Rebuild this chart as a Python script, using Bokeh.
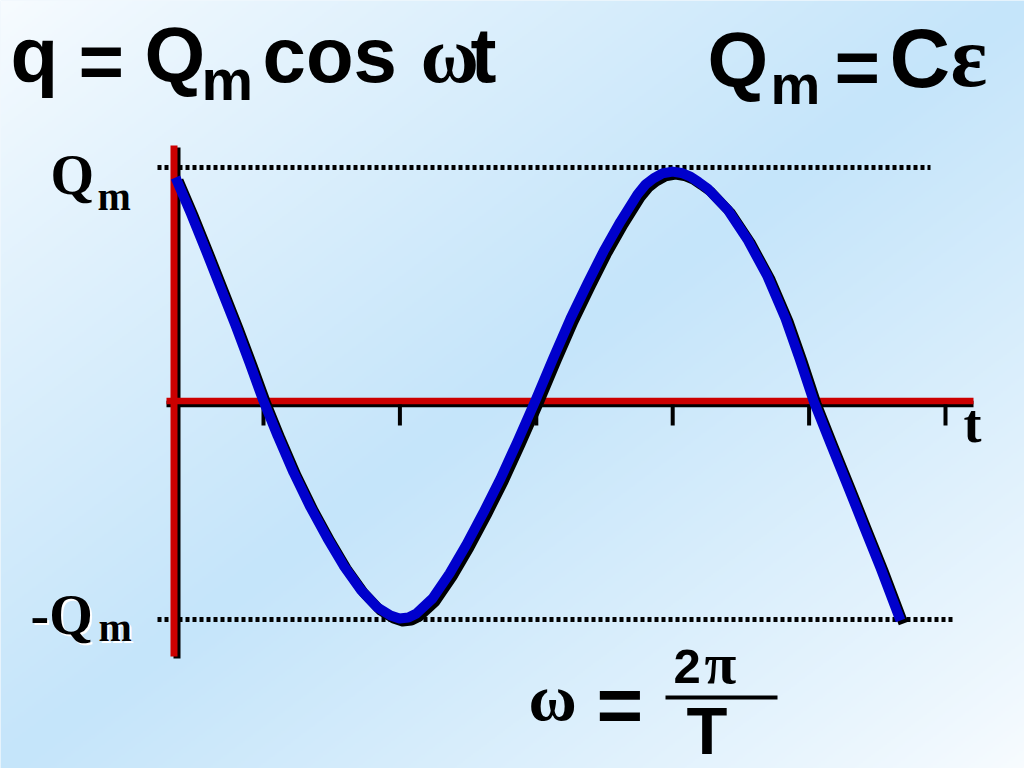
import numpy as np
from bokeh.plotting import figure
from bokeh.models import Range1d, Label
from bokeh.embed import file_html
from bokeh.resources import INLINE

# ---------------- data ----------------
# time in quarter periods (T/4): the tick marks sit at t = 1..6
# charge q in units of Qm
tick_t = [1, 2, 3, 4, 5, 6]

curve_t = [0.355, 0.465, 0.575, 0.685, 0.795, 0.897, 0.993, 1.103, 1.220, 1.345,
           1.469, 1.587, 1.711, 1.836, 1.931, 1.997, 2.063, 2.122, 2.239, 2.364, 2.488,
           2.613, 2.738, 2.862, 2.994, 3.126, 3.251, 3.375, 3.493, 3.617, 3.742,
           3.801, 3.859, 3.925, 3.999, 4.064, 4.130, 4.189, 4.255, 4.402, 4.548,
           4.695, 4.827, 4.930, 5.032, 5.157, 5.282, 5.399, 5.523, 5.670]
curve_q = [0.989, 0.834, 0.670, 0.502, 0.334, 0.170, 0.011, -0.153, -0.316, -0.471,
           -0.608, -0.728, -0.834, -0.914, -0.949, -0.962, -0.958, -0.940, -0.874, -0.763,
           -0.635, -0.493, -0.343, -0.179, 0.002, 0.192, 0.365, 0.520, 0.662, 0.794,
           0.914, 0.958, 0.985, 1.007, 1.015, 1.009, 0.993, 0.969, 0.940, 0.847, 0.715,
           0.551, 0.365, 0.188, 0.002, -0.188, -0.374, -0.551, -0.737, -0.971]

qm_level = 1.033       # dotted line "Qm"
neg_qm_level = -0.967  # dotted line "-Qm"

# ---------------- layout (page pixel geometry) ----------------
W, H = 1024, 768
PX_PER_T, T0_PX = 136.4, 126.6     # page x of t = 0
PX_PER_Q, Q0_PX = 226.0, 400.5     # page y of q = 0


def tx(px):
    return (px - T0_PX) / PX_PER_T


def qy(py):
    return (Q0_PX - py) / PX_PER_Q


SANS = "Liberation Sans"
SERIF = "Liberation Serif"
RED = "#cc0000"
BLUE = "#0000cc"

p = figure(width=W, height=H, output_backend="svg", toolbar_location=None,
           x_range=Range1d(tx(0), tx(W)), y_range=Range1d(qy(H), qy(0)),
           x_axis_type=None, y_axis_type=None, min_border=0, title=None)
p.outline_line_color = None
p.background_fill_color = "#e4f2fc"
p.border_fill_color = "#e4f2fc"

# background: diagonal light-blue gradient of the slide
nx, ny = 512, 384
gx, gy = np.meshgrid(np.linspace(0, 1, nx), np.linspace(0, 1, ny))
f = 1 - np.abs((gx + gy) - 1)
f = np.clip(f, 0, 1) ** 0.85
light = np.array([248, 252, 255])
mid = np.array([197, 229, 250])
img = np.empty((ny, nx), dtype=np.uint32)
view = img.view(dtype=np.uint8).reshape((ny, nx, 4))
for k in range(3):
    view[:, :, k] = (light[k] + (mid[k] - light[k]) * f).astype(np.uint8)
view[:, :, 3] = 255
img = img[::-1]
p.image_rgba(image=[img], x=tx(0), y=qy(H), dw=tx(W) - tx(0), dh=qy(0) - qy(H))

# dotted reference lines at +Qm and -Qm
p.line([tx(157), tx(930)], [qm_level, qm_level], line_color="black", line_width=5,
       line_dash="4 3")
p.line([tx(157), tx(955)], [neg_qm_level, neg_qm_level], line_color="black", line_width=5,
       line_dash="4 3")

# axes with their dark drop shadows
p.line([tx(166), tx(973)], [qy(403.5), qy(403.5)], line_color="black", line_width=6.5)
p.line([tx(176.5), tx(176.5)], [qy(147), qy(658)], line_color="black", line_width=7)
p.line([tx(166), tx(973)], [0, 0], line_color=RED, line_width=6.5)
p.line([tx(173.5), tx(173.5)], [qy(145), qy(656)], line_color=RED, line_width=7)

# tick marks
p.segment(x0=tick_t, y0=qy(404), x1=tick_t, y1=qy(425), line_color="black", line_width=4)

# the charge curve with its shadow
sh_t = 3 / PX_PER_T
sh_q = 3 / PX_PER_Q
p.line([v + sh_t for v in curve_t], [v - sh_q for v in curve_q], line_color="black",
       line_width=10, line_join="round")
p.line(curve_t, curve_q, line_color=BLUE, line_width=10, line_join="round")


def lab(text, x_img, base_img, size, font=SANS, color="black"):
    # the label anchor is placed about 0.35 em above the wanted baseline
    y_img = base_img - 0.35 * size
    p.add_layout(Label(x=tx(x_img), y=qy(y_img), text=text, text_font=font,
                       text_font_size=f"{size}px", text_font_style="bold",
                       text_color=color, text_baseline="alphabetic", text_align="left"))


# title: q = Qm cos ωt
lab("q", 10, 82, 78)
lab("=", 78, 88, 78)
lab("Q", 144, 82, 78)
lab("m", 201, 99, 58)
lab("cos", 262, 82, 78)
lab("ω", 420, 82, 80, SERIF)
lab("t", 470, 82, 78)

# Qm = Cε
lab("Q", 707, 87, 78)
lab("m", 770, 104, 56)
lab("=", 834, 94, 78)
lab("C", 889, 87, 84)
lab("ε", 950, 87, 86, SERIF)

# axis labels
lab("Q", 50, 194, 56, SERIF)
lab("m", 97, 210, 40, SERIF)
lab("-Q", 32, 636, 56, SERIF, "white")
lab("m", 100, 643, 40, SERIF, "white")
lab("-Q", 30, 634, 56, SERIF)
lab("m", 98, 641, 40, SERIF)
lab("t", 963, 442, 54, SERIF)

# ω = 2π / T
lab("ω", 528, 720, 66, SERIF)
lab("=", 596, 732, 80)
lab("2", 673, 683, 49)
lab("π", 704, 683, 58, SERIF)
p.line([tx(665), tx(777)], [qy(697), qy(697)], line_color="black", line_width=4)
lab("T", 686, 753, 67)

open("out.html", "w").write(file_html(p, INLINE))
